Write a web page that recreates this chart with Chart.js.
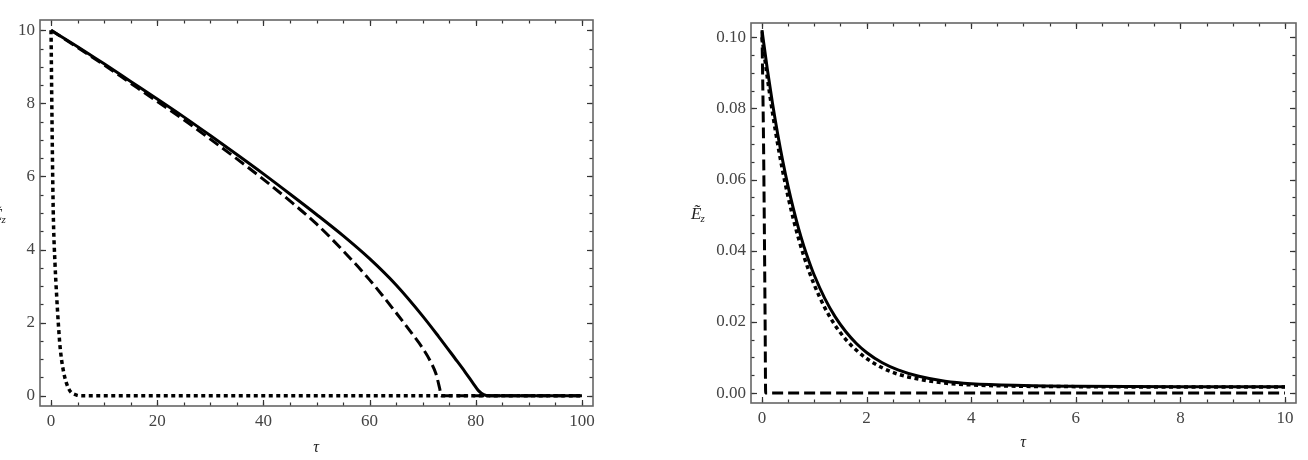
<!DOCTYPE html>
<html>
<head>
<meta charset="utf-8">
<script src="https://cdn.jsdelivr.net/npm/chart.js@4.4.1/dist/chart.umd.min.js"></script>
<style>
  body { margin: 0; background: #fff; }
  .panel { position: absolute; top: 0; width: 654px; height: 460px; }
  #left { left: 0; }
  #right { left: 654px; }
</style>
</head>
<body>
<div class="panel" id="left"><canvas id="chart-left"></canvas></div>
<div class="panel" id="right"><canvas id="chart-right"></canvas></div>
<script>
// ---- left panel: E_z vs tau, 0..100 ----
const leftSolidX = [0, 5, 10, 15, 20, 25, 30, 35, 40, 45, 50, 55, 60, 65, 70, 73, 76, 78, 79.5, 80.5, 81.5, 82.5, 100];
const leftSolidY = [10, 9.55, 9.08, 8.6, 8.12, 7.63, 7.12, 6.6, 6.07, 5.52, 4.96, 4.38, 3.75, 3.03, 2.18, 1.62, 1.04, 0.65, 0.34, 0.14, 0.03, 0, 0];

const leftDashX = [0, 5, 10, 15, 20, 25, 30, 35, 40, 45, 50, 55, 60, 65, 68, 70, 71.5, 72.5, 73.2, 73.5, 100];
const leftDashY = [10, 9.53, 9.05, 8.55, 8.05, 7.55, 7.02, 6.48, 5.92, 5.33, 4.7, 3.97, 3.17, 2.27, 1.7, 1.3, 0.93, 0.6, 0.2, 0, 0];

const leftDotX = [0, 0.1, 0.2, 0.3, 0.45, 0.75, 1.07, 1.37, 1.7, 2.3, 3.3, 4.8, 6, 100];
const leftDotY = [10, 8.6, 7.3, 6.1, 4.8, 3.6, 2.7, 1.98, 1.34, 0.7, 0.2, 0.02, 0, 0];

const leftXTicks = [0, 20, 40, 60, 80, 100];
const leftXLabels = ['0', '20', '40', '60', '80', '100'];
const leftYTicks = [0, 2, 4, 6, 8, 10];
const leftYLabels = ['0', '2', '4', '6', '8', '10'];

// ---- right panel: E_z vs tau, 0..10 ----
const rightSolidX = [0, 0.1, 0.2, 0.3, 0.4, 0.5, 0.6, 0.7, 0.8, 0.9, 1.0, 1.2, 1.4, 1.6, 1.8, 2.0, 2.3, 2.6, 3.0, 3.5, 4.0, 5, 6, 8, 10];
const rightSolidY = [0.102, 0.0912, 0.0815, 0.0728, 0.065, 0.058, 0.0518, 0.0462, 0.0413, 0.037, 0.0331, 0.0266, 0.0214, 0.0173, 0.014, 0.0114, 0.0085, 0.0065, 0.0047, 0.0033, 0.0026, 0.0021, 0.0019, 0.0018, 0.0018];

const rightDashX = [0, 0.03, 0.06, 0.07, 10];
const rightDashY = [0.1016, 0.07, 0.02, 0, 0];

const rightDotX = [0, 0.1, 0.2, 0.3, 0.4, 0.5, 0.6, 0.7, 0.8, 0.9, 1.0, 1.2, 1.4, 1.6, 1.8, 2.0, 2.3, 2.6, 3.0, 3.5, 4.0, 5, 6, 8, 10];
const rightDotY = [0.1, 0.0889, 0.0789, 0.07, 0.0621, 0.0551, 0.0489, 0.0434, 0.0385, 0.0342, 0.0304, 0.024, 0.019, 0.0151, 0.0121, 0.0097, 0.0071, 0.0053, 0.0039, 0.0028, 0.0023, 0.0019, 0.0018, 0.0017, 0.0017];

const rightXTicks = [0, 2, 4, 6, 8, 10];
const rightXLabels = ['0', '2', '4', '6', '8', '10'];
const rightYTicks = [0, 0.02, 0.04, 0.06, 0.08, 0.10];
const rightYLabels = ['0.00', '0.02', '0.04', '0.06', '0.08', '0.10'];

const SERIF = '"Liberation Serif", "DejaVu Serif", serif';

function pts(xs, ys) {
  return xs.map((x, i) => ({ x, y: ys[i] }));
}

function steps(from, to, step) {
  const out = [];
  for (let v = from; v <= to + step / 1000; v += step) out.push(+v.toFixed(6));
  return out;
}

/**
 * Mathematica-style frame: grey box with inward ticks on all four sides
 */
const frameTicks = {
  id: 'frameTicks',
  afterDatasetsDraw(chart, args, opts) {
    const { ctx, chartArea: a, scales: { x, y } } = chart;
    ctx.save();
    ctx.strokeStyle = '#333';
    ctx.lineWidth = 1.2;
    const seg = (x1, y1, x2, y2) => {
      ctx.beginPath(); ctx.moveTo(x1, y1); ctx.lineTo(x2, y2); ctx.stroke();
    };
    const drawX = (vals, len) => vals.forEach(v => {
      const px = Math.round(x.getPixelForValue(v)) + 0.5;
      seg(px, a.bottom, px, a.bottom - len);
      seg(px, a.top, px, a.top + len);
    });
    const drawY = (vals, len) => vals.forEach(v => {
      const py = Math.round(y.getPixelForValue(v)) + 0.5;
      seg(a.left, py, a.left + len, py);
      seg(a.right, py, a.right - len, py);
    });
    drawX(opts.xMinor, 3.5);
    drawX(opts.xMajor, 6);
    drawY(opts.yMinor, 3.5);
    drawY(opts.yMajor, 6);

    ctx.strokeStyle = '#666';
    ctx.lineWidth = 1.6;
    ctx.strokeRect(a.left, a.top, a.right - a.left, a.bottom - a.top);

    // axis titles
    ctx.fillStyle = '#222';
    ctx.textBaseline = 'alphabetic';
    ctx.font = 'italic 16px ' + SERIF;
    ctx.textAlign = 'center';
    ctx.fillText('\u03C4', opts.tauX, opts.tauY);
    ctx.textAlign = 'left';
    ctx.font = 'italic 17px ' + SERIF;
    ctx.fillText('\u1EBC', opts.eX, opts.eY);
    const w = ctx.measureText('\u1EBC').width;
    ctx.font = 'italic 11px ' + SERIF;
    ctx.fillText('z', opts.eX + w - 1, opts.eY + 3);
    ctx.restore();
  }
};

function lineSet(data, dash, width) {
  return {
    data,
    borderColor: '#000',
    borderWidth: width,
    borderDash: dash,
    borderCapStyle: 'butt',
    pointRadius: 0,
    cubicInterpolationMode: 'monotone',
    fill: false,
  };
}

function makeChart(id, cfg) {
  const axisFont = { family: SERIF, size: 17 };
  return new Chart(document.getElementById(id), {
    type: 'line',
    data: {
      datasets: [
        lineSet(cfg.dot, [4, 3.5], 3.5),
        lineSet(cfg.dash, [11, 5], 3),
        lineSet(cfg.solid, [], 3),
      ]
    },
    plugins: [frameTicks],
    options: {
      responsive: true,
      maintainAspectRatio: false,
      animation: false,
      layout: { padding: cfg.padding },
      plugins: {
        legend: { display: false },
        tooltip: { enabled: false },
        frameTicks: cfg.frame,
      },
      scales: {
        x: {
          type: 'linear',
          min: cfg.xMin,
          max: cfg.xMax,
          grid: { display: false, drawTicks: false },
          border: { display: false },
          ticks: {
            color: '#444',
            font: axisFont,
            padding: 5,
            maxRotation: 0,
            callback: (v, i) => cfg.xLabels[i],
          },
          afterBuildTicks: s => { s.ticks = cfg.xTicks.map(v => ({ value: v })); },
          afterFit: s => { s.height = cfg.xHeight; },
        },
        y: {
          type: 'linear',
          min: cfg.yMin,
          max: cfg.yMax,
          grid: { display: false, drawTicks: false },
          border: { display: false },
          ticks: {
            color: '#444',
            font: axisFont,
            padding: 5,
            callback: (v, i) => cfg.yLabels[i],
          },
          afterBuildTicks: s => { s.ticks = cfg.yTicks.map(v => ({ value: v })); },
          afterFit: s => { s.width = cfg.yWidth; },
        }
      }
    }
  });
}

makeChart('chart-left', {
  solid: pts(leftSolidX, leftSolidY),
  dash: pts(leftDashX, leftDashY),
  dot: pts(leftDotX, leftDotY),
  xMin: -2.08, xMax: 102.08, yMin: -0.28, yMax: 10.28,
  xTicks: leftXTicks, xLabels: leftXLabels,
  yTicks: leftYTicks, yLabels: leftYLabels,
  padding: { left: 0, top: 20, right: 61, bottom: 0 },
  xHeight: 54, yWidth: 40,
  frame: {
    xMajor: leftXTicks, xMinor: steps(0, 100, 5),
    yMajor: leftYTicks, yMinor: steps(0, 10, 0.5),
    tauX: 316, tauY: 452, eX: -8, eY: 220,
  },
});

makeChart('chart-right', {
  solid: pts(rightSolidX, rightSolidY),
  dash: pts(rightDashX, rightDashY),
  dot: pts(rightDotX, rightDotY),
  xMin: -0.21, xMax: 10.21, yMin: -0.0028, yMax: 0.104,
  xTicks: rightXTicks, xLabels: rightXLabels,
  yTicks: rightYTicks, yLabels: rightYLabels,
  padding: { left: 0, top: 23, right: 12, bottom: 0 },
  xHeight: 57, yWidth: 97,
  frame: {
    xMajor: rightXTicks, xMinor: steps(0, 10, 0.5),
    yMajor: rightYTicks, yMinor: steps(0, 0.1, 0.005),
    tauX: 369, tauY: 447, eX: 37, eY: 219,
  },
});
</script>
</body>
</html>
